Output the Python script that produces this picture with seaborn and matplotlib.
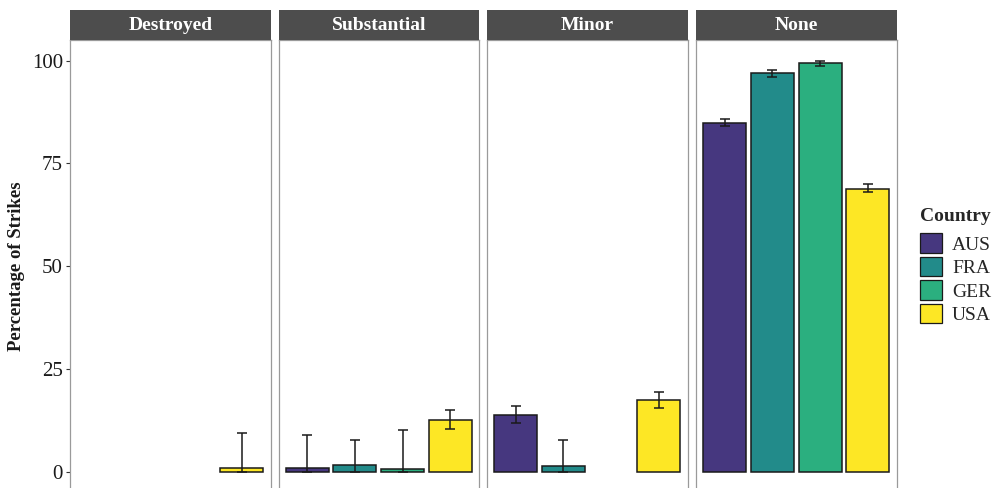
import numpy as np
import pandas as pd
import seaborn as sns
import matplotlib.pyplot as plt
from matplotlib.patches import Patch

# damage facets and countries
damage = ["Destroyed", "Substantial", "Minor", "None"]
countries = ["AUS", "FRA", "GER", "USA"]
colors = ["#46377F", "#228B8A", "#2BAF7F", "#FDE725"]

# percentage of strikes per facet (nan = no bar), with lower / upper interval
pct = {
    "Destroyed":   [np.nan, np.nan, np.nan, 1.0],
    "Substantial": [1.1, 1.6, 0.8, 12.7],
    "Minor":       [13.9, 1.5, np.nan, 17.4],
    "None":        [84.9, 96.9, 99.3, 68.8],
}
lower = {
    "Destroyed":   [np.nan, np.nan, np.nan, 0.0],
    "Substantial": [0.0, 0.0, 0.0, 10.4],
    "Minor":       [11.8, 0.0, np.nan, 15.6],
    "None":        [84.1, 96.1, 98.6, 68.0],
}
upper = {
    "Destroyed":   [np.nan, np.nan, np.nan, 9.6],
    "Substantial": [9.1, 7.9, 10.2, 15.0],
    "Minor":       [16.1, 7.9, np.nan, 19.4],
    "None":        [85.9, 97.7, 100.0, 69.9],
}

rows = []
for d in damage:
    for i, c in enumerate(countries):
        if not np.isnan(pct[d][i]):
            rows.append({"Damage": d, "Country": c, "Percent": pct[d][i],
                         "lo": lower[d][i], "hi": upper[d][i]})
df = pd.DataFrame(rows)

sns.set_theme(style="white")
plt.rcParams["font.family"] = ["Liberation Serif", "DejaVu Serif"]

W, H = 994, 488
fig = plt.figure(figsize=(W / 100, H / 100), dpi=100)
palette = dict(zip(countries, colors))

lefts = [70, 278.5, 487, 696]
pw = 200.5
top_px, bot_px = 40, 492.6
for k, d in enumerate(damage):
    ax = fig.add_axes([lefts[k] / W, (H - bot_px) / H, pw / W, (bot_px - top_px) / H])
    sub = df[df["Damage"] == d]
    sns.barplot(data=sub, x="Country", y="Percent", hue="Country", order=countries,
                hue_order=countries, palette=palette, saturation=1, edgecolor="#1a1a1a",
                linewidth=1.1, width=0.9, errorbar=None, legend=False, ax=ax)
    xs = [countries.index(c) for c in sub["Country"]]
    ax.errorbar(xs, sub["Percent"], yerr=[sub["Percent"] - sub["lo"], sub["hi"] - sub["Percent"]],
                fmt="none", ecolor="#1a1a1a", elinewidth=1.1, capsize=3.3, capthick=1.1)
    ax.set_xlim(-0.6, 3.6)
    ax.set_ylim(-5, 105)
    ax.set_xlabel("")
    ax.set_ylabel("")
    ax.set_xticks([])
    for s in ax.spines.values():
        s.set_color("#9a9a9a")
        s.set_linewidth(0.9)
    if k == 0:
        ax.set_yticks([0, 25, 50, 75, 100])
        ax.tick_params(axis="y", left=True, length=3, width=0.8, color="#333333",
                       labelsize=15, labelcolor="#1a1a1a", pad=2)
    else:
        ax.set_yticks([])

    # facet strip
    sx = fig.add_axes([lefts[k] / W, (H - top_px) / H, pw / W, 30 / H])
    sx.set_facecolor("#4D4D4D")
    sx.set_xticks([])
    sx.set_yticks([])
    for s in sx.spines.values():
        s.set_visible(False)
    sx.text(0.5, 0.47, d, ha="center", va="center", color="white",
            fontsize=14, fontweight="bold", transform=sx.transAxes)

fig.text(17 / W, (H - 266) / H, "Percentage of Strikes", rotation=90, ha="center",
         va="center", fontsize=13.5, fontweight="bold", color="#1a1a1a")

handles = [Patch(facecolor=c, edgecolor="#1a1a1a", linewidth=0.9) for c in colors]
leg = fig.legend(handles, countries, title="Country", loc="upper left",
                 bbox_to_anchor=(920 / W, (H - 208) / H), frameon=False,
                 fontsize=14, title_fontsize=14, handlelength=1.15, handleheight=1.15,
                 handletextpad=0.5, labelspacing=0.17, borderaxespad=0, borderpad=0)
leg.get_title().set_fontweight("bold")
leg._legend_box.align = "left"
leg._legend_box.sep = 6

fig.savefig("out.png", dpi=100)
